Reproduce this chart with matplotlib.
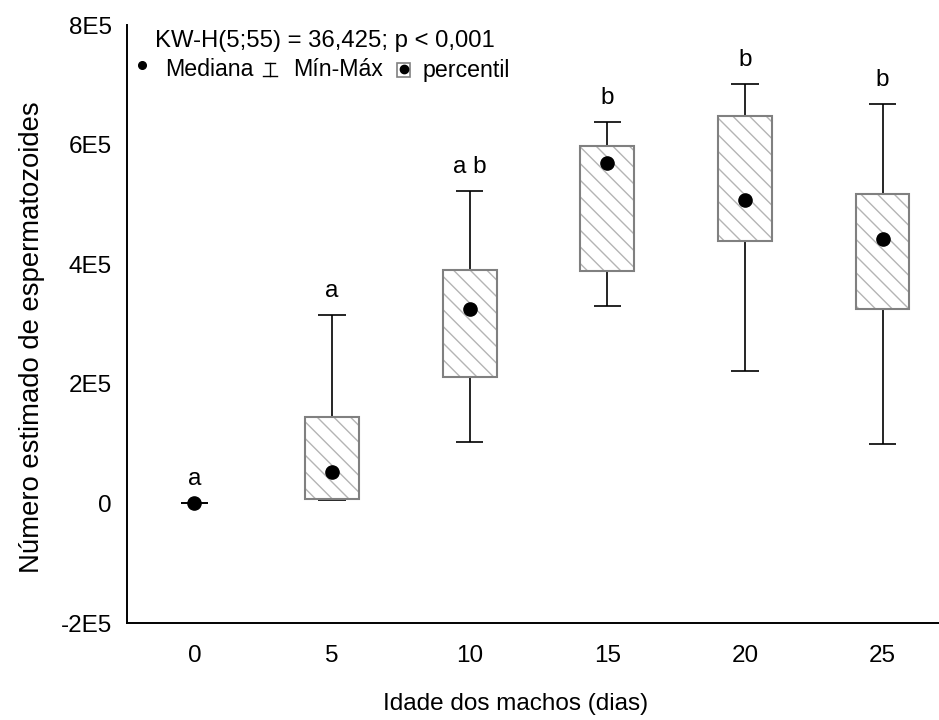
import matplotlib
matplotlib.use("Agg")
import matplotlib.pyplot as plt
import numpy as np

# dados (unidade: espermatozoides)
ages = ["0", "5", "10", "15", "20", "25"]
minimo = [0, 0.05e5, 1.02e5, 3.30e5, 2.22e5, 1.00e5]
q1 = [0, 0.08e5, 2.12e5, 3.88e5, 4.38e5, 3.25e5]
mediana = [0, 0.52e5, 3.25e5, 5.70e5, 5.08e5, 4.42e5]
q3 = [0, 1.45e5, 3.90e5, 5.97e5, 6.47e5, 5.17e5]
maximo = [0, 3.15e5, 5.22e5, 6.38e5, 7.02e5, 6.68e5]
letras = ["a", "a", "a b", "b", "b", "b"]
y_ticks = [-2e5, 0, 2e5, 4e5, 6e5, 8e5]
y_ticklabels = ["-2E5", "0", "2E5", "4E5", "6E5", "8E5"]

W, H, DPI = 939, 720, 100
FONT = ["Liberation Sans", "DejaVu Sans"]
plt.rcParams.update({
    "font.family": FONT,
    "hatch.color": "#b4b4b4",
    "hatch.linewidth": 1.0,
})

fig = plt.figure(figsize=(W / DPI, H / DPI), dpi=DPI)
AX_L, AX_B, AX_T = 127, 623, 25  # pixels (image coords)
ax = fig.add_axes([AX_L / W, (H - AX_B) / H, 1 - AX_L / W, (AX_B - AX_T) / H])

x = np.arange(len(ages))
q1a, q3a = np.array(q1), np.array(q3)
has_box = q3a > q1a
box_w = 0.39
cap_w = 0.20

# whiskers + caps
ax.vlines(x, minimo, maximo, color="black", lw=1.2, zorder=2)
ax.hlines(minimo, x - cap_w / 2, x + cap_w / 2, color="black", lw=1.2, zorder=2)
ax.hlines(maximo, x - cap_w / 2, x + cap_w / 2, color="black", lw=1.2, zorder=2)

# percentil boxes: hatched fill, then grey outline
ax.bar(x[has_box], (q3a - q1a)[has_box], bottom=q1a[has_box], width=box_w,
       color="white", edgecolor="#b4b4b4", linewidth=0, hatch="\\\\", zorder=3)
ax.bar(x[has_box], (q3a - q1a)[has_box], bottom=q1a[has_box], width=box_w,
       fill=False, edgecolor="#808080", linewidth=1.5, zorder=4)

# medians
ax.plot(x, mediana, "o", color="black", markersize=9.5, zorder=5)

# group letters
for xi, top, lab in zip(x, maximo, letras):
    ax.annotate(lab, (xi, top), xytext=(0, 13), textcoords="offset points",
                ha="center", va="baseline", fontsize=17.5)

ax.set_xlim(-0.49, 5.41)
ax.set_ylim(-2e5, 8e5)
ax.set_xticks(x)
ax.set_xticklabels(ages)
ax.set_yticks(y_ticks)
ax.set_yticklabels(y_ticklabels)
ax.tick_params(axis="both", length=0, labelsize=17.5)
ax.tick_params(axis="x", pad=16)
ax.tick_params(axis="y", pad=11)
for s in ("top", "right"):
    ax.spines[s].set_visible(False)
for s in ("left", "bottom"):
    ax.spines[s].set_linewidth(1.4)

ax.set_xlabel("Idade dos machos (dias)", fontsize=17.5)
ax.set_ylabel("Número estimado de espermatozoides", fontsize=19.8)
ax.xaxis.set_label_coords(0.478, -0.117)
ax.yaxis.set_label_coords(-0.101, 0.478)


# legend drawn by hand, positions in image pixels
def px(xp, yp):
    return ((xp - AX_L) / (W - AX_L), (AX_B - yp) / (AX_B - AX_T))


kw = dict(transform=ax.transAxes, clip_on=False)
ax.text(*px(155, 41), "KW-H(5;55) = 36,425; p < 0,001", fontsize=17.2,
        va="center", ha="left", transform=ax.transAxes)
ax.plot(*px(142, 65), "o", color="black", markersize=5.5, **kw)
ax.text(*px(165, 70), "Mediana", fontsize=16.7, va="center", ha="left",
        transform=ax.transAxes)
# min-max glyph
ax.plot(*zip(px(270, 63), px(270, 76)), color="black", lw=1, **kw)
ax.plot(*zip(px(265, 63), px(275, 63)), color="black", lw=1, **kw)
ax.plot(*zip(px(263, 76), px(277, 76)), color="black", lw=1, **kw)
ax.text(*px(293, 70), "Mín-Máx", fontsize=16.7, va="center", ha="left",
        transform=ax.transAxes)
# percentil glyph
x0, y0 = px(397, 77)
x1, y1 = px(410, 63)
ax.add_patch(plt.Rectangle((x0, y0), x1 - x0, y1 - y0, facecolor="white",
                           edgecolor="#808080", lw=1.2, **kw))
ax.plot(*px(403.5, 69), "o", color="black", markersize=6, **kw)
ax.text(*px(423, 70), "percentil", fontsize=16.7, va="center", ha="left",
        transform=ax.transAxes)

fig.savefig("out.png", dpi=DPI)
